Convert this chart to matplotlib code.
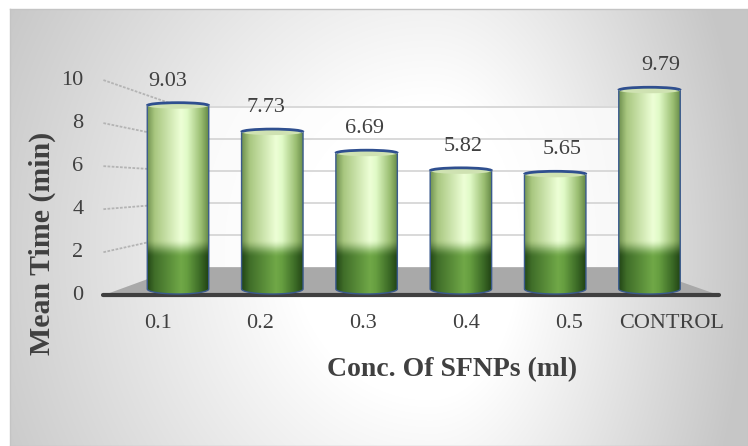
import numpy as np
import matplotlib
matplotlib.use("Agg")
import matplotlib.pyplot as plt
from matplotlib.patches import Polygon, Ellipse, Arc, PathPatch
from matplotlib.path import Path

# données
categories = ["0.1", "0.2", "0.3", "0.4", "0.5", "CONTROL"]
mean_time = [9.03, 7.73, 6.69, 5.82, 5.65, 9.79]
yticks = [0, 2, 4, 6, 8, 10]
xlabel = "Conc. Of SFNPs (ml)"
ylabel = "Mean Time (min)"

W, H = 748, 446
# échelle pixel du plan des barres
PX_X0, PX_DX = 178.0, 94.3
PX_Y0, PX_DY = 289.0, 20.3
# point de fuite de la perspective (pixels)
VX, VY = 405.0, 185.0
K_BACK, K_FRONT, K_LAB = 0.79, 1.06, 1.09
bar_w = 0.652
cap_h = 6.0 / PX_DY
base_h = 5.0 / PX_DY
dark_h = 1.55

txt = "#404040"
serif = ["Liberation Serif", "DejaVu Serif"]

fig = plt.figure(figsize=(W / 100, H / 100), dpi=100)

# fond dégradé de la zone du graphique
bg = fig.add_axes([10 / W, 0, 1 - 10 / W, 1 - 9 / H])
yy, xx = np.mgrid[9:H, 10:W].astype(float)
rx = np.where(xx < 430, 460.0, 300.0)
d = np.sqrt(((xx - 430) / rx) ** 2 + ((yy - 250) / 500.0) ** 2)
g = 1 - 0.22 * np.clip((d - 0.3) / 0.75, 0, 1)
bg.imshow(np.dstack([g, g, g]), aspect="auto", interpolation="bilinear")
bg.set_xticks([])
bg.set_yticks([])
for s in bg.spines.values():
    s.set_color("#c4c4c4")
    s.set_linewidth(1)

ax = fig.add_axes([0, 0, 1, 1])
ax.patch.set_alpha(0)
xlim = (-PX_X0 / PX_DX, (W - PX_X0) / PX_DX)
ylim = (-(H - PX_Y0) / PX_DY, PX_Y0 / PX_DY)
xv = (VX - PX_X0) / PX_DX
yv = (PX_Y0 - VY) / PX_DY


def plane(x, y, k):
    return xv + (np.asarray(x) - xv) * k, yv + (np.asarray(y) - yv) * k


wall_l, wall_r = -0.61, 5.55

# paroi du fond
bx, by = plane([wall_l, wall_r, wall_r, wall_l], [0, 0, 10, 10], K_BACK)
ax.add_patch(Polygon(np.column_stack([bx, by]), closed=True, alpha=0.75,
                     facecolor="white", edgecolor="none", zorder=1))
for t in yticks[1:]:
    gx, gy = plane([wall_l, wall_r], [t, t], K_BACK)
    ax.plot(gx, gy, color="#d9d9d9", lw=1.4, zorder=2)

# parois latérales : traits de graduation
for t in yticks[1:]:
    fx, fy = plane(wall_l, t, K_FRONT)
    kx, ky = plane(wall_l, t, K_BACK)
    ax.plot([fx, kx], [fy, ky], color="#b4b4b4", lw=1.3, ls=(0, (1.5, 0.8)), zorder=2)

# plancher
px_, py_ = plane([wall_l, wall_r], [0, 0], K_FRONT)
qx_, qy_ = plane([wall_r, wall_l], [0, 0], K_BACK)
ax.add_patch(Polygon(np.column_stack([np.r_[px_, qx_], np.r_[py_, qy_]]),
                     closed=True, facecolor="#a9a9a9", edgecolor="none", zorder=3))
ax.plot(px_, py_, color="#3f3f3f", lw=3, solid_capstyle="round", zorder=4)

# dégradés des cylindres
stops = [0, 0.12, 0.55, 0.65, 0.88, 1]
light = np.array([[0.45, 0.58, 0.32], [0.66, 0.78, 0.50], [0.93, 1.0, 0.84],
                  [0.88, 0.98, 0.78], [0.60, 0.74, 0.44], [0.40, 0.54, 0.28]])
dark = np.array([[0.14, 0.28, 0.09], [0.25, 0.43, 0.16], [0.44, 0.66, 0.28],
                 [0.40, 0.62, 0.25], [0.22, 0.40, 0.14], [0.13, 0.26, 0.08]])
u = np.linspace(0, 1, 80)
row_l = np.column_stack([np.interp(u, stops, light[:, c]) for c in range(3)])
row_d = np.column_stack([np.interp(u, stops, dark[:, c]) for c in range(3)])

for i, v in enumerate(mean_time):
    x0, x1 = i - bar_w / 2, i + bar_w / 2
    ys = np.linspace(v, -base_h, 200)
    wgt = np.clip((ys - dark_h) / 0.9, 0, 1)
    wgt = (wgt * wgt * (3 - 2 * wgt))[:, None, None]
    img = wgt * row_l[None] + (1 - wgt) * row_d[None]
    im = ax.imshow(img, extent=[x0, x1, -base_h, v], aspect="auto",
                   interpolation="bilinear", zorder=5)
    th = np.linspace(np.pi, 2 * np.pi, 40)
    ex = i + bar_w / 2 * np.cos(th)
    ey = base_h * np.sin(th)
    verts = np.r_[[[x0, v]], np.column_stack([ex, ey]), [[x1, v]], [[x0, v]]]
    clip = Path(verts, closed=True)
    edge = PathPatch(clip, facecolor="none", edgecolor="#3a5a8c", lw=1.0, zorder=6)
    ax.add_patch(edge)
    im.set_clip_path(edge)
    ax.add_patch(Ellipse((i, v), bar_w, cap_h, facecolor="#cfe2b2",
                         edgecolor="none", zorder=7))
    ax.add_patch(Arc((i, v), bar_w, cap_h, theta1=0, theta2=180,
                     edgecolor="#2f4f8f", lw=2.0, zorder=8))
    ax.text(i + (i - xv) * 0.045, v + 1.2, f"{v:.2f}", ha="center", va="center",
            fontsize=16, color=txt, family=serif, zorder=9)

# étiquettes des catégories
for i, c in enumerate(categories):
    lx, _ = plane(i, 0, K_LAB)
    ax.text(lx, (PX_Y0 - 323) / PX_DY, c, ha="center", va="center",
            fontsize=16, color=txt, family=serif)

# graduations de l'axe vertical
for t in yticks:
    fx, fy = plane(wall_l, t, K_FRONT)
    ax.text(fx - 0.21, fy, str(t), ha="right", va="center",
            fontsize=16, color=txt, family=serif)

ax.text((452 - PX_X0) / PX_DX, (PX_Y0 - 370) / PX_DY, xlabel, ha="center",
        va="center", fontsize=20, fontweight="bold", color=txt, family=serif)
ax.text((42 - PX_X0) / PX_DX, (PX_Y0 - 243) / PX_DY, ylabel, ha="center",
        va="center", rotation=90, fontsize=21.5, fontweight="bold", color=txt,
        family=serif)

ax.set_xlim(*xlim)
ax.set_ylim(*ylim)
ax.axis("off")

fig.savefig("out.png", dpi=100)
